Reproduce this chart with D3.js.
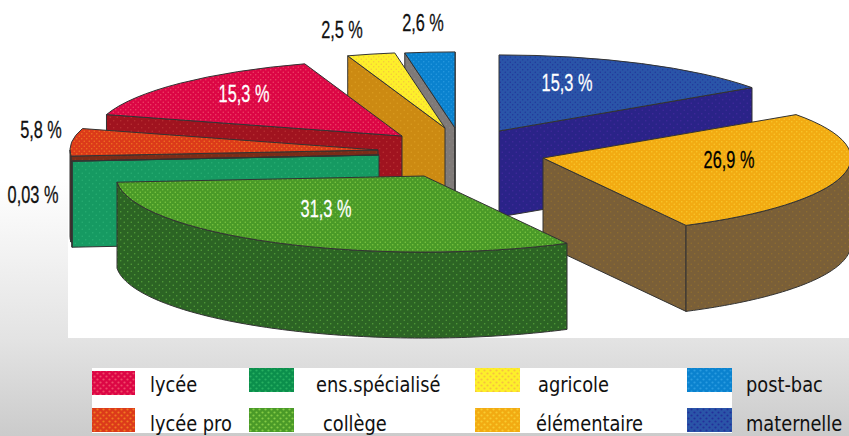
<!DOCTYPE html>
<html>
<head>
<meta charset="utf-8">
<script src="https://cdn.jsdelivr.net/npm/d3@7"></script>
<style>
  html, body { margin: 0; padding: 0; background: #fff; }
  svg { display: block; }
</style>
</head>
<body>
<div id="chart"></div>
<script>
// values, clockwise from 12 o'clock
const categories = ["maternelle", "élémentaire", "collège", "ens.spécialisé", "lycée pro", "lycée", "agricole", "post-bac"];
const values = [15.3, 26.9, 31.3, 0.03, 5.8, 15.3, 2.5, 2.6];
const valueLabels = ["15,3 %", "26,9 %", "31,3 %", "0,03 %", "5,8 %", "15,3 %", "2,5 %", "2,6 %"];

// legend reading order: two rows, four columns
const legendRows = [
  ["lycée", "ens.spécialisé", "agricole", "post-bac"],
  ["lycée pro", "collège", "élémentaire", "maternelle"]
];

// styles, same order as categories
const topColors = ["#2a55a8", "#f2ab12", "#4a9a28", "#0b8f4c", "#dc3a1a", "#dc0645", "#fdf02a", "#0a82cf"];
const topDots = ["#23309a", "#f9cc30", "#84cc44", "#27b060", "#f07a20", "#f04a68", "#f6c040", "#2a9be0"];
const wallColors = ["#2a2388", "#7a5f38", "#2c6424", "#169a62", "#7a2c18", "#a0131f", "#cc8a12", "#7f7a78"];
const wallDots = ["#44289e", "#93702c", "#5aa83c", "#2ab074", "#8a3a20", "#bc3434", "#dc9e20", "#8c8884"];

// how far each slice is pulled out of the pie, same order as categories
const explode = [[29, -19], [73, 8], [-46, 26], [-91, 5], [-92, 0], [-68, -14], [-25, -22], [-15, -22]];
const drawOrder = ["maternelle", "post-bac", "agricole", "lycée", "lycée pro", "ens.spécialisé", "élémentaire", "collège"];

const width = 849, height = 436;
const cx = 470, cy = 150;
const radius = 308, squash = 0.247, depth = 86;

const svg = d3.select("#chart").append("svg").attr("width", width).attr("height", height);
const defs = svg.append("defs");

// page background
const bg = defs.append("linearGradient").attr("id", "page")
  .attr("gradientUnits", "userSpaceOnUse").attr("x1", 0).attr("y1", 0).attr("x2", 0).attr("y2", height);
[[180, "#ffffff"], [340, "#e3e3e3"], [436, "#cbcbcb"]].forEach(s => {
  bg.append("stop").attr("offset", s[0] / height).attr("stop-color", s[1]);
});

function addPattern(id, base, dot, size, dotR, sy) {
  const p = defs.append("pattern").attr("id", id)
    .attr("patternUnits", "userSpaceOnUse")
    .attr("width", size).attr("height", size);
  if (sy) p.attr("patternTransform", `scale(1,${sy})`);
  p.append("rect").attr("width", size).attr("height", size).attr("fill", base);
  p.append("circle").attr("cx", size / 4).attr("cy", size / 4).attr("r", dotR).attr("fill", dot);
  p.append("circle").attr("cx", size * 3 / 4).attr("cy", size * 3 / 4).attr("r", dotR).attr("fill", dot);
}

categories.forEach((c, i) => {
  addPattern("top" + i, topColors[i], topDots[i], 5, 0.7, 1 / squash);
  addPattern("flat" + i, topColors[i], topDots[i], 6, 1.1);
  addPattern("wall" + i, wallColors[i], wallDots[i], 7, 0.65);
});

svg.append("rect").attr("width", width).attr("height", height).attr("fill", "url(#page)");
svg.append("rect").attr("x", 68).attr("y", 0).attr("width", width - 68).attr("height", 338).attr("fill", "#fff");

const pie = d3.pie().sort(null).value(d => d);
const slices = pie(values);
const arc = d3.arc().innerRadius(0).outerRadius(radius);

const strokeColor = "#333";

// point of a slice at angle a and distance r, on the top face
const px = (i, a, r) => cx + explode[i][0] + r * Math.sin(a);
const py = (i, a, r) => cy + explode[i][1] - r * squash * Math.cos(a);

function radialWall(i, a) {
  const area = d3.area()
    .x(r => px(i, a, r))
    .y0(r => py(i, a, r))
    .y1(r => py(i, a, r) + depth);
  return area([0, radius]);
}

function outerWall(i, a0, a1) {
  const area = d3.area()
    .x(a => px(i, a, radius))
    .y0(a => py(i, a, radius))
    .y1(a => py(i, a, radius) + depth);
  return area(d3.range(a0, a1, 0.02).concat([a1]));
}

const pieGroup = svg.append("g");

drawOrder.forEach(name => {
  const i = categories.indexOf(name);
  const s = slices[i];
  const g = pieGroup.append("g");
  const wallPaths = [];

  // only the faces turned to the viewer
  if (Math.sin(s.startAngle) < 0) wallPaths.push(radialWall(i, s.startAngle));
  if (Math.sin(s.endAngle) > 0) wallPaths.push(radialWall(i, s.endAngle));
  const a0 = Math.max(s.startAngle, Math.PI / 2);
  const a1 = Math.min(s.endAngle, Math.PI * 3 / 2);
  if (a0 < a1) wallPaths.push(outerWall(i, a0, a1));

  g.selectAll("path.wall").data(wallPaths).join("path")
    .attr("class", "wall")
    .attr("d", d => d)
    .attr("fill", `url(#wall${i})`)
    .attr("stroke", strokeColor)
    .attr("stroke-width", 1)
    .attr("stroke-linejoin", "round");

  g.append("path")
    .attr("d", arc(s))
    .attr("transform", `translate(${cx + explode[i][0]},${cy + explode[i][1]}) scale(1,${squash})`)
    .attr("fill", `url(#top${i})`)
    .attr("stroke", strokeColor)
    .attr("stroke-width", 1)
    .attr("vector-effect", "non-scaling-stroke")
    .attr("stroke-linejoin", "round");
});

// value labels: condensed face, squeezed more to match the print
const labelPos = [[567, 82, "#fff"], [729, 159, "#000"], [326, 208, "#fff"], [33, 194, "#111"], [41, 129, "#111"], [244, 93, "#fff"], [342, 29, "#111"], [423, 22, "#111"]];
svg.append("g").selectAll("text").data(valueLabels).join("text")
  .attr("transform", (d, i) => `translate(${labelPos[i][0]},${labelPos[i][1]}) scale(0.68,1)`)
  .attr("text-anchor", "middle")
  .attr("dy", "0.36em")
  .attr("font-family", "'Liberation Sans Narrow','Liberation Sans',sans-serif")
  .attr("font-size", 24)
  .attr("fill", (d, i) => labelPos[i][2])
  .attr("stroke", (d, i) => labelPos[i][2])
  .attr("stroke-width", 0.3)
  .text(d => d);

// legend
const legend = svg.append("g");
legend.append("rect").attr("x", 92).attr("y", 368).attr("width", 640).attr("height", 65).attr("fill", "#fff");

const swatchX = [92, 249, 475, 687];
const swatchTop = [[371, 368, 368, 368], [408, 408, 408, 408]];
const textX = [[150, 316, 538, 746], [150, 323, 536, 746]];
const baseline = [392, 431];

legendRows.forEach((row, r) => {
  row.forEach((name, c) => {
    const i = categories.indexOf(name);
    legend.append("rect")
      .attr("x", swatchX[c]).attr("y", swatchTop[r][c])
      .attr("width", c === 0 ? 43 : 45).attr("height", 24)
      .attr("fill", `url(#flat${i})`);
    legend.append("text")
      .attr("transform", `translate(${textX[r][c]},${baseline[r]}) scale(0.9,1)`)
      .attr("font-family", "'DejaVu Sans Condensed','DejaVu Sans',sans-serif")
      .attr("font-stretch", "condensed")
      .attr("font-size", 22)
      .attr("fill", "#111")
      .text(name);
  });
});
</script>
</body>
</html>
